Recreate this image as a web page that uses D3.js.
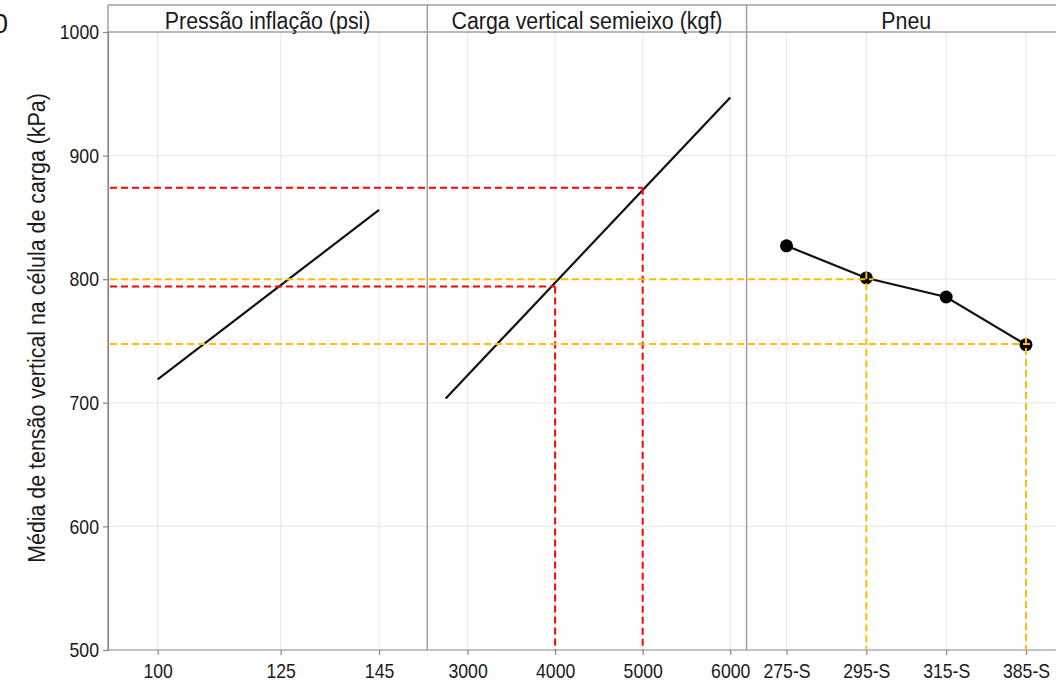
<!DOCTYPE html>
<html>
<head>
<meta charset="utf-8">
<script src="https://cdn.jsdelivr.net/npm/d3@7"></script>
<style>
  body { margin: 0; background: #fff; }
  svg text { font-family: "Liberation Sans", Arial, sans-serif; }
</style>
</head>
<body>
<div id="chart"></div>
<script>
// valores
const pressao = [100, 145];
const pressaoMedia = [719, 856];
const carga = [2750, 6000];
const cargaMedia = [703.5, 947];
const pneus = ['275-S', '295-S', '315-S', '385-S'];
const pneuMedia = [827, 801, 785.6, 747];

const pressaoTicks = [100, 125, 145];
const cargaTicks = [3000, 4000, 5000, 6000];
const yTicks = [500, 600, 700, 800, 900, 1000];
const gridY = [600, 700, 800, 900];

const painelTitulos = ['Pressão inflação (psi)', 'Carga vertical semieixo (kgf)', 'Pneu'];

// linhas de referência tracejadas
const refVermelho = [{y: 874, x: 5000}, {y: 794, x: 4000}];
const refLaranja = [{y: 800, x: '295-S'}, {y: 747.6, x: '385-S'}];

const width = 1056, height = 684;
const stripTop = 5, plotTop = 32, plotBottom = 650;
const panelLeft = 108, panelW = 319.3;
const gridColor = '#ebebeb', borderColor = '#a0a0a0';
const red = '#ff0000', orange = '#ffbf00';

const svg = d3.select('#chart').append('svg')
    .attr('width', width)
    .attr('height', height);

const y = d3.scaleLinear().domain([500, 1000]).range([plotBottom, plotTop]);

const x0 = d3.scaleLinear().domain([89.9, 154.8]).range([panelLeft, panelLeft + panelW]);
const x1 = d3.scaleLinear().domain([2540, 6187]).range([panelLeft + panelW, panelLeft + 2 * panelW]);
const x2 = d3.scalePoint().domain(pneus)
    .range([panelLeft + 2 * panelW, panelLeft + 3 * panelW]).padding(0.5);

const panels = [
    {x: x0, ticks: pressaoTicks},
    {x: x1, ticks: cargaTicks},
    {x: x2, ticks: pneus}
];

// estreita o texto, como no original
function condense(sel, k) {
    sel.each(function() {
        const len = this.getComputedTextLength();
        d3.select(this)
            .attr('textLength', len * k)
            .attr('lengthAdjust', 'spacingAndGlyphs');
    });
}

// grade
panels.forEach((p, i) => {
    const left = panelLeft + i * panelW;
    svg.append('g').selectAll('line.gy')
        .data(gridY).join('line')
        .attr('x1', left).attr('x2', left + panelW)
        .attr('y1', d => y(d)).attr('y2', d => y(d))
        .attr('stroke', gridColor).attr('stroke-width', 1.2);
    svg.append('g').selectAll('line.gx')
        .data(p.ticks).join('line')
        .attr('x1', d => p.x(d)).attr('x2', d => p.x(d))
        .attr('y1', plotTop).attr('y2', plotBottom)
        .attr('stroke', gridColor).attr('stroke-width', 1.2);
});

// bordas dos painéis e faixa de títulos
svg.append('line')
    .attr('x1', panelLeft).attr('x2', panelLeft + 3 * panelW)
    .attr('y1', stripTop).attr('y2', stripTop)
    .attr('stroke', borderColor).attr('stroke-width', 1.5);
svg.append('line')
    .attr('x1', panelLeft).attr('x2', panelLeft + 3 * panelW)
    .attr('y1', plotTop).attr('y2', plotTop)
    .attr('stroke', borderColor).attr('stroke-width', 1.5);
[0, 1, 2, 3].forEach(i => {
    svg.append('line')
        .attr('x1', panelLeft + i * panelW).attr('x2', panelLeft + i * panelW)
        .attr('y1', stripTop).attr('y2', plotBottom)
        .attr('stroke', borderColor).attr('stroke-width', 1.5);
});
svg.append('line')
    .attr('x1', panelLeft).attr('x2', panelLeft + 3 * panelW)
    .attr('y1', plotBottom).attr('y2', plotBottom)
    .attr('stroke', '#888').attr('stroke-width', 1.2);

svg.selectAll('text.strip')
    .data(painelTitulos).join('text')
    .attr('class', 'strip')
    .attr('x', (t, i) => panelLeft + i * panelW + panelW / 2)
    .attr('y', 29)
    .attr('text-anchor', 'middle')
    .style('font-size', '23px')
    .attr('fill', '#1a1a1a')
    .text(t => t)
    .call(condense, 0.93);

// eixos
const yAxis = svg.append('g')
    .attr('transform', `translate(${panelLeft},0)`)
    .call(d3.axisLeft(y).tickValues(yTicks).tickFormat(d3.format('d')).tickSize(5).tickPadding(4));
yAxis.select('.domain').attr('stroke', '#888').attr('stroke-width', 1.2);

panels.forEach((p, i) => {
    const axis = d3.axisBottom(p.x).tickValues(p.ticks).tickSize(5).tickPadding(8);
    if (i < 2) axis.tickFormat(d3.format('d'));
    const ax = svg.append('g')
        .attr('transform', `translate(0,${plotBottom})`)
        .call(axis);
    ax.select('.domain').remove();
});

svg.selectAll('.tick line').attr('stroke', '#888').attr('stroke-width', 1.2);
svg.selectAll('.tick text')
    .attr('fill', '#1a1a1a')
    .style('font-size', '21px')
    .style('font-family', '"Liberation Sans", Arial, sans-serif')
    .call(condense, 0.84);

// título do eixo y
svg.append('text')
    .attr('transform', `translate(45,${(plotTop + plotBottom) / 2 - 13}) rotate(-90)`)
    .attr('text-anchor', 'middle')
    .style('font-size', '23px')
    .attr('fill', '#1a1a1a')
    .text('Média de tensão vertical na célula de carga (kPa)')
    .call(condense, 0.93);

// fragmento de rótulo cortado no canto (como no original)
svg.append('text')
    .attr('x', 8).attr('y', 33)
    .attr('text-anchor', 'end')
    .style('font-size', '27px')
    .attr('fill', '#1a1a1a')
    .text('0');

// linhas dos efeitos
const lineGen = d3.line();
svg.append('path')
    .attr('d', lineGen(pressao.map((d, i) => [x0(d), y(pressaoMedia[i])])))
    .attr('fill', 'none').attr('stroke', '#111').attr('stroke-width', 2.2);
svg.append('path')
    .attr('d', lineGen(carga.map((d, i) => [x1(d), y(cargaMedia[i])])))
    .attr('fill', 'none').attr('stroke', '#111').attr('stroke-width', 2.2);
svg.append('path')
    .attr('d', lineGen(pneus.map((d, i) => [x2(d), y(pneuMedia[i])])))
    .attr('fill', 'none').attr('stroke', '#111').attr('stroke-width', 2.2);
svg.selectAll('circle.pneu')
    .data(pneus).join('circle')
    .attr('cx', d => x2(d))
    .attr('cy', (d, i) => y(pneuMedia[i]))
    .attr('r', 6.5)
    .attr('fill', '#000');

// tracejados
const dash = '7,4';
refVermelho.forEach(r => {
    svg.append('line')
        .attr('x1', panelLeft + 2).attr('x2', x1(r.x))
        .attr('y1', y(r.y)).attr('y2', y(r.y))
        .attr('stroke', red).attr('stroke-width', 2).attr('stroke-dasharray', dash);
    svg.append('line')
        .attr('x1', x1(r.x)).attr('x2', x1(r.x))
        .attr('y1', y(r.y)).attr('y2', plotBottom)
        .attr('stroke', red).attr('stroke-width', 2).attr('stroke-dasharray', dash);
});
refLaranja.forEach(r => {
    svg.append('line')
        .attr('x1', panelLeft + 2).attr('x2', x2(r.x) + 7)
        .attr('y1', y(r.y)).attr('y2', y(r.y))
        .attr('stroke', orange).attr('stroke-width', 2).attr('stroke-dasharray', dash);
    svg.append('line')
        .attr('x1', x2(r.x)).attr('x2', x2(r.x))
        .attr('y1', y(r.y) - 7).attr('y2', plotBottom)
        .attr('stroke', orange).attr('stroke-width', 2).attr('stroke-dasharray', dash);
});
</script>
</body>
</html>
